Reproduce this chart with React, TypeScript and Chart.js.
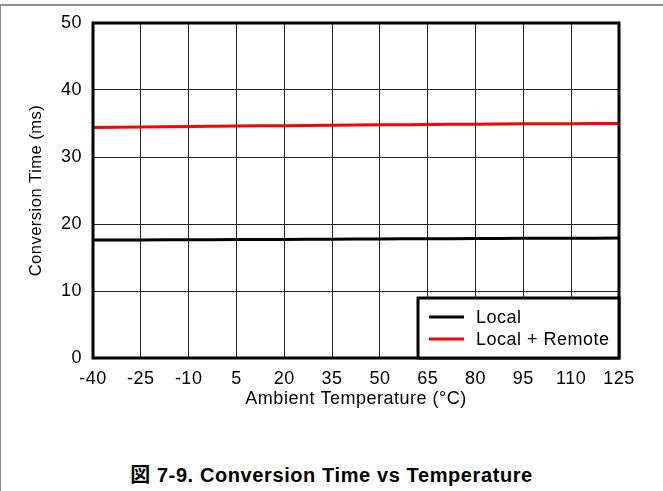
import { useEffect, useRef } from "react";
import { Chart, registerables } from "chart.js";

Chart.register(...registerables);

const temperatures = [-40, -25, -10, 5, 20, 35, 50, 65, 80, 95, 110, 125];
const localTimes = [17.6, 17.62, 17.65, 17.68, 17.7, 17.73, 17.76, 17.8, 17.83, 17.86, 17.88, 17.9];
const localRemoteTimes = [34.4, 34.48, 34.55, 34.62, 34.68, 34.74, 34.8, 34.86, 34.9, 34.95, 34.97, 35.0];
const xTicks = [-40, -25, -10, 5, 20, 35, 50, 65, 80, 95, 110, 125];
const yTicks = [0, 10, 20, 30, 40, 50];
const seriesNames = ["Local", "Local + Remote"];
const seriesColors = ["#000000", "#ff0000"];
const xTitle = "Ambient Temperature (°C)";
const yTitle = "Conversion Time (ms)";
const caption = "図 7-9. Conversion Time vs Temperature";

const FONT = '"Liberation Sans", Arial, sans-serif';
const SPACING = "0.5px";

const framePlugin = {
  id: "frameAndLegend",
  beforeUpdate(chart: any) {
    chart.ctx.letterSpacing = SPACING;
  },
  beforeDraw(chart: any) {
    chart.ctx.letterSpacing = SPACING;
  },
  afterDraw(chart: any) {
    const { ctx, chartArea: a } = chart;
    ctx.save();
    ctx.letterSpacing = SPACING;
    ctx.strokeStyle = "#000";
    ctx.lineWidth = 3;
    ctx.strokeRect(a.left, a.top, a.right - a.left, a.bottom - a.top);
    const w = 201;
    const h = 60;
    const lx = a.right - w;
    const ly = a.bottom - h;
    ctx.fillStyle = "#fff";
    ctx.fillRect(lx, ly, w, h);
    ctx.strokeRect(lx, ly, w, h);
    ctx.font = `18px ${FONT}`;
    ctx.textBaseline = "middle";
    ctx.textAlign = "left";
    chart.data.datasets.forEach((ds: any, i: number) => {
      const y = ly + 19 + i * 22;
      ctx.strokeStyle = ds.borderColor;
      ctx.lineWidth = 3;
      ctx.beginPath();
      ctx.moveTo(lx + 11, y);
      ctx.lineTo(lx + 46, y);
      ctx.stroke();
      ctx.fillStyle = "#000";
      ctx.fillText(ds.label, lx + 58, y + 1);
    });
    ctx.restore();
  },
};

export default function App() {
  const ref = useRef<HTMLCanvasElement>(null);

  useEffect(() => {
    const font = { family: FONT, size: 18 };
    const chart = new Chart(ref.current!, {
      type: "line",
      data: {
        datasets: [
          {
            label: seriesNames[0],
            data: temperatures.map((t, i) => ({ x: t, y: localTimes[i] })),
            borderColor: seriesColors[0],
            backgroundColor: seriesColors[0],
            borderWidth: 3,
            pointRadius: 0,
            tension: 0.3,
          },
          {
            label: seriesNames[1],
            data: temperatures.map((t, i) => ({ x: t, y: localRemoteTimes[i] })),
            borderColor: seriesColors[1],
            backgroundColor: seriesColors[1],
            borderWidth: 3,
            pointRadius: 0,
            tension: 0.3,
          },
        ],
      },
      options: {
        responsive: false,
        animation: false,
        devicePixelRatio: 1,
        layout: { padding: { top: 23, right: 44, left: 0, bottom: 0 } },
        plugins: { legend: { display: false }, tooltip: { enabled: false } },
        scales: {
          x: {
            type: "linear",
            min: -40,
            max: 125,
            afterBuildTicks: (s: any) => {
              s.ticks = xTicks.map((v) => ({ value: v }));
            },
            afterFit: (s: any) => {
              s.height = 62;
            },
            ticks: { color: "#000", font, padding: 10, autoSkip: false, maxRotation: 0, minRotation: 0 },
            grid: { color: "#222", lineWidth: 1, drawTicks: false },
            border: { display: false },
            title: { display: true, text: xTitle, color: "#000", font, padding: { top: 0, bottom: 10 } },
          },
          y: {
            type: "linear",
            min: 0,
            max: 50,
            afterBuildTicks: (s: any) => {
              s.ticks = yTicks.map((v) => ({ value: v }));
            },
            afterFit: (s: any) => {
              s.width = 93;
            },
            ticks: { color: "#000", font, padding: 11 },
            grid: { color: "#222", lineWidth: 1, drawTicks: false },
            border: { display: false },
            title: {
              display: true,
              text: yTitle,
              color: "#000",
              font: { family: FONT, size: 16.5 },
              padding: { top: 27, bottom: 0 },
            },
          },
        },
      },
      plugins: [framePlugin],
    } as any);
    return () => chart.destroy();
  }, []);

  return (
    <div
      style={{
        position: "fixed",
        left: 0,
        top: 0,
        width: 663,
        height: 491,
        background: "#fff",
        overflow: "hidden",
      }}
    >
      <div
        style={{
          position: "absolute",
          left: 0,
          top: 4,
          width: 663,
          height: 487,
          borderTop: "2px solid #8c8c8c",
          borderLeft: "1px solid #8c8c8c",
          boxSizing: "border-box",
        }}
      />
      <canvas
        ref={ref}
        width={663}
        height={420}
        style={{ position: "absolute", left: 0, top: 0, width: 663, height: 420 }}
      />
      <div
        style={{
          position: "absolute",
          left: 0,
          top: 463,
          width: 663,
          textAlign: "center",
          font: `bold 20px ${FONT}`,
          fontFamily: `"Liberation Sans", Arial, "Noto Sans CJK JP", sans-serif`,
          lineHeight: "24px",
          letterSpacing: "0.6px",
          color: "#000",
        }}
      >
        {caption}
      </div>
    </div>
  );
}
